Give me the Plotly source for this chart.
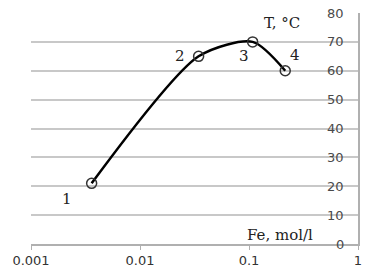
import math
import plotly.graph_objects as go

fe = [0.0036, 0.0345, 0.108, 0.215]
temp = [21, 65, 70, 60]
labels = ["1", "2", "3", "4"]
y_ticks = [0, 10, 20, 30, 40, 50, 60, 70, 80]
x_ticks = [0.001, 0.01, 0.1, 1]
x_ticktext = ["0.001", "0.01", "0.1", "1"]

fig = go.Figure()
fig.add_trace(go.Scatter(
    x=fe, y=temp, mode="lines",
    line=dict(color="black", width=2.5, shape="spline", smoothing=0.75),
    hoverinfo="skip", showlegend=False))
fig.add_trace(go.Scatter(
    x=fe, y=temp, mode="markers",
    marker=dict(symbol="circle-open", size=10, color="#333333", line=dict(width=1.5)),
    showlegend=False))

serif = dict(family="DejaVu Serif", size=15, color="#222222")

# point labels
lab_pos = [(0.00216, 15.7), (0.0231, 65.2), (0.0904, 65.2), (0.264, 65.4)]
for (lx, ly), t in zip(lab_pos, labels):
    fig.add_annotation(x=math.log10(lx), y=ly, text=t, showarrow=False, font=serif)

fig.add_annotation(x=math.log10(0.131), y=76.6, text="T, \u00b0C", showarrow=False,
                   xanchor="left", font=serif)
fig.add_annotation(x=math.log10(0.092), y=3.2, text="Fe, mol/l", showarrow=False,
                   xanchor="left", font=serif)

# y tick labels drawn over the gridlines, left of the right-hand axis
for v in y_ticks:
    fig.add_annotation(x=1, xref="paper", y=v, yref="y", text=str(v), showarrow=False,
                       xanchor="right", xshift=-12,
                       font=dict(family="DejaVu Sans", size=13, color="#4a4a4a"))

fig.update_layout(
    width=390, height=280,
    margin=dict(l=26, r=32, t=13, b=31),
    paper_bgcolor="white", plot_bgcolor="white",
    xaxis=dict(type="log", range=[-3, 0], tickvals=x_ticks, ticktext=x_ticktext,
               showgrid=False, showline=True, linecolor="#b0b0b0", linewidth=1.5,
               ticks="outside", ticklen=4, tickcolor="#b0b0b0",
               tickfont=dict(family="DejaVu Sans", size=13, color="#333333"),
               zeroline=False),
    yaxis=dict(range=[0, 80], tickvals=y_ticks, side="right",
               showticklabels=False,
               showgrid=True, gridcolor="#c8c8c8", gridwidth=1.5,
               showline=True, linecolor="#b0b0b0", linewidth=1.5,
               ticks="", zeroline=False),
)
fig.write_html("out.html")
